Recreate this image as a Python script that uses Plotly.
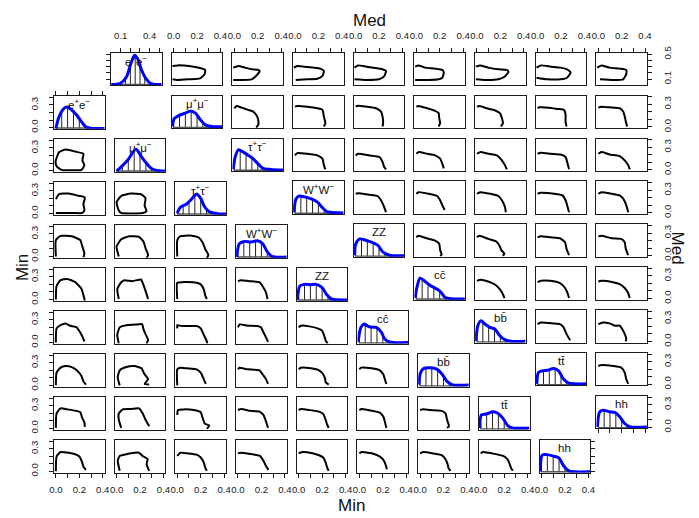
import plotly.graph_objects as go

W, H = 699, 518

NAMES = ["e+e-", "mu+mu-", "tau+tau-", "W+W-", "ZZ", "ccbar", "bbbar", "ttbar", "hh"]
LABELS = ["e<sup>+</sup>e<sup>−</sup>", "μ<sup>+</sup>μ<sup>−</sup>", "τ<sup>+</sup>τ<sup>−</sup>",
          "W<sup>+</sup>W<sup>−</sup>", "ZZ", "cc\u0304", "bb\u0304", "tt\u0304", "hh"]

STD_RANGE = [-0.016, 0.416]
MED_EE_RANGE = [0.0, 0.525]
STD_TICKS = [0.0, 0.1, 0.2, 0.3, 0.4]
EE_TICKS = [0.1, 0.2, 0.3, 0.4, 0.5]
X_LAB_STD = [0.0, 0.2, 0.4]
Y_LAB_STD = [0.0, 0.3]
X_LAB_EE = [0.1, 0.4]
Y_LAB_EE = [0.1, 0.5]

# ---- diagonal density curves (x, relative height in panel) ----
MIN_DENS_X = [
    [0.0, 0.026, 0.069, 0.097, 0.125, 0.168, 0.21, 0.252, 0.295, 0.33, 0.416],
    [0.0, 0.04, 0.096, 0.165, 0.207, 0.25, 0.29, 0.33, 0.416],
    [0.0, 0.025, 0.08, 0.12, 0.165, 0.2, 0.23, 0.27, 0.31, 0.36, 0.416],
    [-0.01, 0.012, 0.054, 0.11, 0.166, 0.21, 0.25, 0.29, 0.416],
    [-0.01, 0.01, 0.05, 0.1, 0.15, 0.2, 0.24, 0.28, 0.416],
    [-0.01, 0.013, 0.041, 0.075, 0.117, 0.145, 0.187, 0.215, 0.257, 0.416],
    [-0.01, 0.004, 0.032, 0.089, 0.146, 0.188, 0.23, 0.273, 0.416],
    [-0.008, 0.005, 0.047, 0.104, 0.146, 0.188, 0.23, 0.272, 0.416],
    [-0.008, 0.006, 0.049, 0.105, 0.148, 0.19, 0.232, 0.28, 0.416],
]
MIN_DENS_H = [
    [0.0, 0.36, 0.63, 0.67, 0.61, 0.46, 0.26, 0.07, 0.02, 0.01, 0.01],
    [0.02, 0.15, 0.36, 0.69, 0.49, 0.28, 0.12, 0.05, 0.02],
    [0.05, 0.22, 0.33, 0.47, 0.64, 0.5, 0.26, 0.1, 0.05, 0.02, 0.02],
    [0.02, 0.43, 0.5, 0.48, 0.52, 0.43, 0.18, 0.04, 0.02],
    [0.02, 0.45, 0.5, 0.49, 0.5, 0.4, 0.18, 0.05, 0.02],
    [0.05, 0.5, 0.6, 0.53, 0.5, 0.5, 0.35, 0.15, 0.05, 0.03],
    [0.06, 0.43, 0.56, 0.58, 0.53, 0.38, 0.16, 0.06, 0.05],
    [0.05, 0.45, 0.48, 0.55, 0.5, 0.35, 0.12, 0.05, 0.04],
    [0.03, 0.53, 0.55, 0.5, 0.45, 0.2, 0.05, 0.02, 0.02],
]
MED_DENS_X = [
    [0.0, 0.092, 0.159, 0.203, 0.244, 0.278, 0.312, 0.362, 0.413, 0.525],
    [-0.01, 0.004, 0.046, 0.1, 0.144, 0.186, 0.228, 0.27, 0.326, 0.416],
    [-0.01, 0.007, 0.035, 0.077, 0.12, 0.16, 0.2, 0.244, 0.314, 0.416],
    [-0.008, 0.007, 0.035, 0.077, 0.134, 0.19, 0.232, 0.274, 0.416],
    [-0.01, 0.001, 0.035, 0.092, 0.134, 0.19, 0.232, 0.29, 0.416],
    [-0.01, 0.004, 0.032, 0.075, 0.118, 0.16, 0.203, 0.246, 0.302, 0.416],
    [-0.008, 0.007, 0.035, 0.068, 0.11, 0.152, 0.194, 0.236, 0.293, 0.416],
    [-0.008, 0.007, 0.04, 0.082, 0.137, 0.179, 0.221, 0.263, 0.416],
    [-0.008, 0.012, 0.04, 0.097, 0.14, 0.183, 0.225, 0.268, 0.416],
]
MED_DENS_H = [
    [0.02, 0.05, 0.25, 0.65, 0.92, 0.8, 0.5, 0.2, 0.05, 0.02],
    [0.05, 0.29, 0.39, 0.46, 0.53, 0.46, 0.26, 0.1, 0.05, 0.04],
    [0.05, 0.43, 0.65, 0.58, 0.48, 0.38, 0.23, 0.08, 0.05, 0.03],
    [0.05, 0.45, 0.55, 0.53, 0.47, 0.37, 0.2, 0.07, 0.03],
    [0.05, 0.4, 0.55, 0.5, 0.45, 0.35, 0.15, 0.05, 0.03],
    [0.05, 0.36, 0.66, 0.56, 0.44, 0.36, 0.26, 0.07, 0.03, 0.02],
    [0.05, 0.52, 0.67, 0.57, 0.47, 0.42, 0.22, 0.09, 0.04, 0.04],
    [0.05, 0.4, 0.45, 0.47, 0.52, 0.45, 0.2, 0.08, 0.05],
    [0.05, 0.51, 0.56, 0.51, 0.49, 0.36, 0.15, 0.05, 0.04],
]

# ---- histogram spikes (relative heights) ----
BAR_X = [0.0, 0.05, 0.1, 0.15, 0.2, 0.25, 0.3, 0.35, 0.4]
EE_MED_BAR_X = [0.05, 0.1, 0.15, 0.2, 0.25, 0.3, 0.35, 0.4, 0.45, 0.5]
MIN_BAR_H = [
    [0.0, 0.5, 0.67, 0.53, 0.3, 0.08, 0.02, 0.01, 0.01],
    [0.02, 0.18, 0.38, 0.6, 0.52, 0.28, 0.1, 0.04, 0.02],
    [0.05, 0.27, 0.4, 0.58, 0.5, 0.18, 0.06, 0.02, 0.02],
    [0.1, 0.5, 0.48, 0.51, 0.45, 0.18, 0.04, 0.02, 0.02],
    [0.1, 0.5, 0.49, 0.5, 0.4, 0.14, 0.04, 0.02, 0.02],
    [0.2, 0.58, 0.51, 0.5, 0.3, 0.07, 0.04, 0.03, 0.03],
    [0.2, 0.57, 0.57, 0.52, 0.32, 0.11, 0.05, 0.05, 0.05],
    [0.2, 0.48, 0.55, 0.5, 0.3, 0.08, 0.05, 0.04, 0.04],
    [0.25, 0.55, 0.51, 0.44, 0.16, 0.04, 0.02, 0.02, 0.02],
]
MED_BAR_H = [
    [0.03, 0.06, 0.2, 0.62, 0.9, 0.6, 0.27, 0.08, 0.03, 0.02],
    [0.1, 0.4, 0.46, 0.52, 0.4, 0.17, 0.07, 0.05, 0.04],
    [0.2, 0.62, 0.53, 0.4, 0.23, 0.08, 0.05, 0.04, 0.03],
    [0.2, 0.55, 0.51, 0.44, 0.32, 0.13, 0.05, 0.03, 0.03],
    [0.2, 0.54, 0.49, 0.42, 0.3, 0.1, 0.05, 0.03, 0.03],
    [0.2, 0.6, 0.5, 0.38, 0.27, 0.07, 0.03, 0.02, 0.02],
    [0.25, 0.6, 0.5, 0.42, 0.19, 0.07, 0.04, 0.04, 0.04],
    [0.2, 0.45, 0.48, 0.5, 0.35, 0.1, 0.05, 0.05, 0.05],
    [0.25, 0.55, 0.51, 0.46, 0.27, 0.08, 0.04, 0.04, 0.04],
]

# ---- 2D contours: key (y-variable, x-variable), "x,y" points ----
MIN_CONTOURS = {
    (1, 0): "-0.003,0.114 0.027,0.243 0.083,0.278 0.165,0.252 0.235,0.222 0.226,0.135 0.243,0.07 0.217,0.006 0.135,0.005 0.053,0.005 0.01,0.049 -0.003,0.114",
    (2, 0): "0.0,0.191 0.027,0.256 0.109,0.265 0.191,0.235 0.247,0.213 0.235,0.127 0.243,0.04 0.222,0.006 0.152,0.006 0.0,0.006",
    (2, 1): "0.019,0.04 0.0,0.148 0.04,0.235 0.122,0.265 0.209,0.256 0.247,0.204 0.239,0.105 0.256,0.032 0.222,0.006 0.04,0.006 0.019,0.04",
    (3, 0): "0.0,0.0 0.0,0.217 0.04,0.273 0.135,0.269 0.209,0.217 0.222,0.152 0.243,0.04 0.235,-0.01",
    (3, 1): "0.019,0.0 0.0,0.131 0.04,0.23 0.109,0.269 0.191,0.26 0.23,0.196 0.247,0.109 0.269,0.019 0.256,-0.02",
    (3, 2): "0.0,0.0 0.0,0.217 0.027,0.269 0.109,0.278 0.183,0.252 0.217,0.183 0.239,0.096 0.265,0.019 0.252,-0.02",
    (4, 0): "0.0,0.0 0.006,0.178 0.04,0.256 0.096,0.273 0.165,0.23 0.217,0.144 0.235,0.057 0.247,-0.016",
    (4, 1): "0.019,0.006 0.006,0.135 0.036,0.222 0.066,0.256 0.135,0.243 0.209,0.265 0.222,0.222 0.247,0.114 0.269,0.006",
    (4, 2): "0.0,0.006 0.0,0.222 0.053,0.23 0.165,0.222 0.2,0.2 0.226,0.135 0.239,0.049 0.252,0.006",
    (4, 3): "0.0,0.243 0.027,0.256 0.096,0.243 0.183,0.23 0.209,0.178 0.239,0.092 0.252,0.006",
    (5, 0): "0.0,0.0 0.006,0.187 0.04,0.23 0.083,0.252 0.122,0.222 0.178,0.2 0.2,0.152 0.226,0.079 0.243,0.014",
    (5, 1): "0.019,-0.016 0.006,0.1 0.027,0.2 0.096,0.23 0.178,0.239 0.217,0.243 0.23,0.174 0.247,0.109 0.269,0.036 0.256,-0.016",
    (5, 2): "0.0,0.187 0.0,0.23 0.04,0.217 0.083,0.217 0.165,0.217 0.2,0.187 0.226,0.1 0.252,0.014 0.256,-0.016",
    (5, 3): "0.0,0.2 0.014,0.239 0.083,0.222 0.165,0.217 0.196,0.2 0.217,0.135 0.239,0.066 0.256,0.006",
    (5, 4): "0.0,0.2 0.019,0.222 0.092,0.213 0.161,0.187 0.2,0.157 0.217,0.092 0.23,0.027 0.247,-0.016",
    (6, 0): "0.0,0.0 0.006,0.17 0.04,0.235 0.083,0.256 0.135,0.243 0.178,0.2 0.217,0.127 0.235,0.053 0.256,0.01",
    (6, 1): "0.027,0.0 0.01,0.105 0.027,0.2 0.083,0.243 0.152,0.256 0.213,0.226 0.235,0.157 0.269,0.083 0.239,0.019 0.278,0.01",
    (6, 2): "0.0,0.0 0.0,0.213 0.027,0.235 0.083,0.226 0.165,0.213 0.2,0.17 0.226,0.083 0.243,0.019",
    (6, 3): "0.0,0.213 0.014,0.235 0.083,0.213 0.183,0.2 0.209,0.148 0.239,0.083 0.256,0.019",
    (6, 4): "0.0,0.213 0.019,0.235 0.105,0.226 0.174,0.2 0.209,0.148 0.226,0.083 0.23,0.04 0.256,0.01",
    (6, 5): "0.0,0.213 0.014,0.235 0.105,0.226 0.174,0.2 0.204,0.148 0.217,0.083 0.23,0.019",
    (7, 0): "0.0,0.006 0.006,0.2 0.04,0.265 0.096,0.252 0.165,0.235 0.209,0.213 0.222,0.148 0.243,0.079 0.247,0.019",
    (7, 1): "0.04,0.006 0.019,0.114 0.019,0.2 0.053,0.252 0.122,0.256 0.191,0.265 0.222,0.2 0.247,0.114 0.278,0.027",
    (7, 2): "0.0,0.178 0.006,0.243 0.053,0.252 0.14,0.243 0.2,0.213 0.217,0.135 0.235,0.062 0.273,0.036 0.252,-0.007",
    (7, 3): "0.0,0.243 0.027,0.256 0.096,0.235 0.183,0.222 0.217,0.178 0.239,0.092 0.256,0.006",
    (7, 4): "0.0,0.243 0.019,0.256 0.092,0.243 0.174,0.222 0.209,0.191 0.23,0.114 0.243,0.049 0.256,0.006",
    (7, 5): "0.0,0.243 0.019,0.256 0.105,0.235 0.174,0.209 0.204,0.157 0.217,0.092 0.23,0.006",
    (7, 6): "0.0,0.243 0.019,0.252 0.088,0.243 0.174,0.235 0.217,0.2 0.23,0.114 0.247,0.027 0.23,0.006",
    (8, 0): "0.0,0.0 0.006,0.196 0.04,0.256 0.109,0.247 0.165,0.226 0.2,0.196 0.222,0.127 0.235,0.062 0.256,0.019",
    (8, 1): "0.027,0.006 0.01,0.14 0.027,0.204 0.083,0.226 0.122,0.239 0.191,0.247 0.222,0.204 0.265,0.161 0.256,0.096 0.278,0.006",
    (8, 2): "0.0,0.204 0.027,0.247 0.083,0.239 0.165,0.222 0.2,0.183 0.226,0.118 0.239,0.049 0.252,0.006",
    (8, 3): "0.0,0.239 0.027,0.247 0.126,0.226 0.187,0.204 0.217,0.14 0.239,0.07 0.26,0.019",
    (8, 4): "0.0,0.239 0.036,0.256 0.118,0.239 0.174,0.213 0.209,0.183 0.23,0.118 0.243,0.049 0.256,0.006",
    (8, 5): "0.0,0.239 0.019,0.256 0.105,0.239 0.165,0.204 0.2,0.161 0.222,0.096 0.235,0.027",
    (8, 6): "0.0,0.239 0.027,0.256 0.118,0.235 0.187,0.213 0.217,0.161 0.235,0.096 0.243,0.04 0.26,0.006",
    (8, 7): "0.0,0.239 0.019,0.256 0.105,0.235 0.191,0.204 0.226,0.161 0.247,0.096 0.256,0.053 0.273,0.006",
}
MED_CONTOURS = {
    (0, 1): "-0.01,0.31 0.032,0.32 0.131,0.31 0.226,0.278 0.269,0.247 0.265,0.179 0.226,0.11 0.131,0.095 0.032,0.084 -0.01,0.095",
    (0, 2): "-0.01,0.284 0.036,0.31 0.092,0.284 0.148,0.257 0.204,0.247 0.217,0.231 0.187,0.152 0.148,0.095 0.062,0.084 -0.01,0.084",
    (0, 3): "-0.01,0.284 0.019,0.31 0.079,0.3 0.161,0.284 0.217,0.268 0.247,0.231 0.235,0.152 0.191,0.105 0.105,0.095 0.006,0.084",
    (0, 4): "-0.01,0.284 0.019,0.32 0.092,0.3 0.174,0.278 0.23,0.257 0.26,0.231 0.243,0.142 0.2,0.095 0.092,0.084 -0.01,0.095",
    (0, 5): "-0.01,0.3 0.019,0.32 0.075,0.284 0.161,0.268 0.222,0.247 0.235,0.205 0.222,0.121 0.191,0.095 0.105,0.084 -0.01,0.084",
    (0, 6): "-0.01,0.3 0.027,0.32 0.096,0.284 0.183,0.257 0.256,0.247 0.269,0.215 0.239,0.142 0.183,0.095 0.07,0.084 -0.01,0.095",
    (0, 7): "-0.01,0.284 0.027,0.32 0.114,0.3 0.196,0.284 0.252,0.257 0.282,0.205 0.252,0.121 0.196,0.095 0.083,0.095 -0.01,0.121",
    (0, 8): "-0.01,0.284 0.027,0.32 0.096,0.284 0.183,0.268 0.239,0.247 0.239,0.179 0.213,0.095 0.126,0.084 0.014,0.095",
    (1, 2): "0.0,0.248 0.019,0.278 0.062,0.256 0.118,0.226 0.161,0.204 0.187,0.161 0.204,0.096 0.204,0.027 0.187,-0.007",
    (1, 3): "0.0,0.269 0.019,0.278 0.105,0.269 0.191,0.248 0.235,0.226 0.247,0.14 0.26,0.049 0.247,0.006",
    (1, 4): "0.0,0.269 0.019,0.282 0.092,0.269 0.174,0.248 0.217,0.204 0.23,0.14 0.235,0.049 0.23,0.006",
    (1, 5): "0.0,0.269 0.019,0.278 0.092,0.248 0.161,0.213 0.191,0.183 0.196,0.118 0.204,0.049 0.191,0.006",
    (1, 6): "0.0,0.269 0.023,0.278 0.083,0.248 0.152,0.222 0.196,0.183 0.213,0.118 0.222,0.049 0.204,0.006",
    (1, 7): "0.0,0.248 0.014,0.26 0.096,0.256 0.17,0.239 0.226,0.226 0.239,0.161 0.239,0.07 0.247,0.006",
    (1, 8): "0.0,0.256 0.027,0.269 0.096,0.26 0.183,0.248 0.213,0.204 0.226,0.14 0.239,0.049 0.247,0.006",
    (2, 3): "0.0,0.191 0.019,0.222 0.105,0.213 0.191,0.191 0.235,0.148 0.247,0.062 0.26,0.006",
    (2, 4): "0.0,0.191 0.019,0.213 0.118,0.191 0.204,0.17 0.23,0.105 0.243,0.04 0.26,0.006",
    (2, 5): "0.0,0.213 0.019,0.235 0.092,0.213 0.161,0.191 0.204,0.148 0.222,0.083 0.235,0.019",
    (2, 6): "0.0,0.213 0.027,0.235 0.096,0.213 0.17,0.191 0.213,0.126 0.239,0.062 0.256,0.006",
    (2, 7): "0.0,0.213 0.027,0.226 0.114,0.213 0.196,0.204 0.239,0.17 0.256,0.083 0.269,0.006",
    (2, 8): "0.0,0.213 0.027,0.235 0.096,0.204 0.183,0.183 0.226,0.126 0.256,0.062 0.269,0.006",
    (3, 4): "0.0,0.252 0.019,0.26 0.118,0.239 0.187,0.222 0.217,0.165 0.243,0.079 0.26,0.006",
    (3, 5): "0.0,0.252 0.019,0.273 0.105,0.252 0.178,0.222 0.204,0.165 0.222,0.1 0.243,0.036",
    (3, 6): "0.0,0.252 0.027,0.273 0.114,0.252 0.183,0.222 0.213,0.165 0.239,0.079 0.247,0.006",
    (3, 7): "0.0,0.252 0.027,0.265 0.14,0.252 0.213,0.23 0.239,0.165 0.256,0.079 0.269,0.006",
    (3, 8): "0.0,0.252 0.027,0.273 0.114,0.252 0.183,0.23 0.213,0.187 0.239,0.1 0.256,0.006",
    (4, 5): "0.0,0.243 0.019,0.265 0.088,0.23 0.161,0.2 0.196,0.157 0.204,0.07 0.217,0.014 0.204,-0.003",
    (4, 6): "0.0,0.243 0.019,0.265 0.096,0.222 0.165,0.187 0.191,0.135 0.209,0.07 0.235,0.027 0.222,-0.003",
    (4, 7): "0.0,0.243 0.027,0.256 0.109,0.243 0.191,0.23 0.235,0.178 0.247,0.092 0.269,0.006",
    (4, 8): "0.0,0.256 0.027,0.265 0.114,0.23 0.196,0.222 0.226,0.178 0.235,0.092 0.256,0.006",
    (5, 6): "0.0,0.235 0.027,0.248 0.096,0.226 0.157,0.183 0.191,0.131 0.222,0.057 0.235,0.006",
    (5, 7): "0.0,0.217 0.027,0.235 0.109,0.235 0.191,0.204 0.235,0.14 0.256,0.07 0.269,0.006",
    (5, 8): "0.0,0.226 0.027,0.235 0.126,0.217 0.183,0.191 0.226,0.14 0.256,0.07 0.269,0.006",
    (6, 7): "0.0,0.23 0.027,0.252 0.135,0.239 0.191,0.23 0.222,0.187 0.247,0.1 0.278,0.014",
    (6, 8): "0.0,0.23 0.04,0.252 0.096,0.239 0.14,0.209 0.183,0.209 0.204,0.165 0.226,0.1 0.239,0.036 0.235,0.001",
    (7, 8): "0.0,0.243 0.027,0.256 0.126,0.243 0.196,0.222 0.226,0.157 0.239,0.07 0.256,0.006",
}

# ---------------- layout geometry (pixels) ----------------
MIN_LEFT0, MIN_PITCH, MIN_W = 49.7, 61.58, 51.4
MED_LEFT0, MED_PITCH, MED_W = 46.16, 61.54, 51.2
MIN_TOP0, MIN_VP = 47.3, 43.9
MED_TOP0, MED_VP = 46.7, 43.83
PH = 33.2

FONT = "Liberation Sans, Arial, Helvetica, sans-serif"
TICK_FONT = dict(family=FONT, size=9.6, color="#1a1a1a")
FRAME = "#1a1a1a"

fig = go.Figure()
axes = {}
annotations = []
count = [0]


def parse(s):
    pts = [tuple(float(v) for v in p.split(",")) for p in s.split()]
    return [p[0] for p in pts], [p[1] for p in pts]


def make_axis(domain, rng, anchor, tick=None, is_y=False):
    a = dict(domain=domain, range=rng, anchor=anchor, showgrid=False, zeroline=False,
             showline=True, mirror=True, linecolor=FRAME, linewidth=1, fixedrange=True)
    if tick is None:
        a.update(showticklabels=False, ticks="")
        return a
    side, vals, labs = tick
    minor = dict(tickmode="array", tickvals=vals, ticks="outside", ticklen=4,
                 tickwidth=1, tickcolor=FRAME, showgrid=False)
    if labs:
        a.update(side=side, ticks="outside", ticklen=4, tickwidth=1, tickcolor=FRAME,
                 tickmode="array", tickvals=labs, ticktext=[f"{v:.1f}" for v in labs],
                 showticklabels=True, tickfont=TICK_FONT, minor=minor)
        if is_y:
            a.update(tickangle=-90, ticklabelstandoff=7 if side == "left" else 8)
        else:
            a.update(ticklabelstandoff=5 if side == "top" else 4)
    else:
        a.update(side=side, ticks="outside", ticklen=4, tickwidth=1, tickcolor=FRAME,
                 tickmode="array", tickvals=vals, showticklabels=False)
    return a


def add_panel(left, top, w, xr, yr, xtick=None, ytick=None):
    count[0] += 1
    n = count[0]
    sx = "" if n == 1 else str(n)
    xd = [left / W, (left + w) / W]
    yd = [1 - (top + PH) / H, 1 - top / H]
    axes["xaxis" + sx] = make_axis(xd, xr, "y" + sx, xtick, False)
    axes["yaxis" + sx] = make_axis(yd, yr, "x" + sx, ytick, True)
    return "x" + sx, "y" + sx


def draw_hist(xa, ya, yr, bar_x, bar_h, dx, dh, label, left, top, w):
    span = yr[1] - yr[0]
    bx, by = [], []
    for x0, h in zip(bar_x, bar_h):
        bx += [x0, x0, None]
        by += [yr[0], yr[0] + h * span, None]
    fig.add_trace(go.Scatter(x=bx, y=by, mode="lines", xaxis=xa, yaxis=ya,
                             line=dict(color="#222222", width=1), hoverinfo="skip"))
    fig.add_trace(go.Scatter(x=[bar_x[0], bar_x[-1]], y=[yr[0] + 0.012 * span] * 2, mode="lines",
                             xaxis=xa, yaxis=ya, line=dict(color="#555555", width=2), hoverinfo="skip"))
    fig.add_trace(go.Scatter(x=dx, y=[yr[0] + h * span for h in dh], mode="lines",
                             xaxis=xa, yaxis=ya, hoverinfo="skip",
                             line=dict(color="#0000ff", width=3, shape="spline", smoothing=0.8)))
    annotations.append(dict(x=(left + w / 2) / W, y=1 - (top + 8) / H, xref="paper", yref="paper",
                            text=label, showarrow=False, font=dict(family=FONT, size=11.5, color="#111"),
                            xanchor="center", yanchor="middle"))


def draw_contour(xa, ya, s):
    cx, cy = parse(s)
    fig.add_trace(go.Scatter(x=cx, y=cy, mode="lines", xaxis=xa, yaxis=ya, hoverinfo="skip",
                             line=dict(color="black", width=2, shape="spline", smoothing=0.5)))


def med_range(i):
    return MED_EE_RANGE if i == 0 else STD_RANGE


def med_ticks(i, is_y):
    if i == 0:
        return EE_TICKS, (Y_LAB_EE if is_y else X_LAB_EE)
    return STD_TICKS, (Y_LAB_STD if is_y else X_LAB_STD)


# ---------------- Med grid (rows 0-8, cols 1-9) ----------------
for i in range(9):
    top = MED_TOP0 + MED_VP * i
    for j in range(i, 9):
        col = j + 1
        left = MED_LEFT0 + MED_PITCH * col
        xr, yr = med_range(j), med_range(i)
        xtick = ytick = None
        if i == 0:
            v, t = med_ticks(j, False)
            xtick = ("top", v, t)
        if col == 9:
            v, t = med_ticks(i, True)
            ytick = ("right", v, t)
        if i == j:
            if i == 0:
                v, t = med_ticks(0, True)
                ytick = ("left", v, [])
            if i == 8:
                v, t = med_ticks(8, False)
                xtick = ("bottom", v, [])
            xa, ya = add_panel(left, top, MED_W, xr, yr, xtick, ytick)
            bx = EE_MED_BAR_X if i == 0 else BAR_X
            draw_hist(xa, ya, yr, bx, MED_BAR_H[i], MED_DENS_X[i], MED_DENS_H[i], LABELS[i], left, top, MED_W)
        else:
            xa, ya = add_panel(left, top, MED_W, xr, yr, xtick, ytick)
            draw_contour(xa, ya, MED_CONTOURS[(i, j)])

# ---------------- Min grid (rows 1-9, cols 0-8) ----------------
for i in range(9):
    row = i + 1
    top = MIN_TOP0 + MIN_VP * row
    for j in range(0, i + 1):
        left = MIN_LEFT0 + MIN_PITCH * j
        xtick = ytick = None
        if row == 9:
            xtick = ("bottom", STD_TICKS, X_LAB_STD)
        if j == 0:
            ytick = ("left", STD_TICKS, Y_LAB_STD)
        if i == j:
            if i == 0:
                xtick = ("top", STD_TICKS, [])
            if i == 8:
                ytick = ("right", STD_TICKS, [])
            xa, ya = add_panel(left, top, MIN_W, STD_RANGE, STD_RANGE, xtick, ytick)
            draw_hist(xa, ya, STD_RANGE, BAR_X, MIN_BAR_H[i], MIN_DENS_X[i], MIN_DENS_H[i], LABELS[i], left, top, MIN_W)
        else:
            xa, ya = add_panel(left, top, MIN_W, STD_RANGE, STD_RANGE, xtick, ytick)
            draw_contour(xa, ya, MIN_CONTOURS[(i, j)])

TITLE_FONT = dict(family=FONT, size=17, color="#111")
annotations += [
    dict(x=370 / W, y=1 - 14 / H, text="Med", font=TITLE_FONT),
    dict(x=352 / W, y=1 - 509 / H, text="Min", font=TITLE_FONT),
    dict(x=18 / W, y=1 - 266 / H, text="Min", font=TITLE_FONT, textangle=-90),
    dict(x=682 / W, y=1 - 246 / H, text="Med", font=TITLE_FONT, textangle=90),
]
for a in annotations[-4:]:
    a.update(xref="paper", yref="paper", showarrow=False, xanchor="center", yanchor="middle")

fig.update_layout(width=W, height=H, margin=dict(l=0, r=0, t=0, b=0),
                  paper_bgcolor="white", plot_bgcolor="white", showlegend=False,
                  annotations=annotations, **axes)
fig.write_html("out.html")
